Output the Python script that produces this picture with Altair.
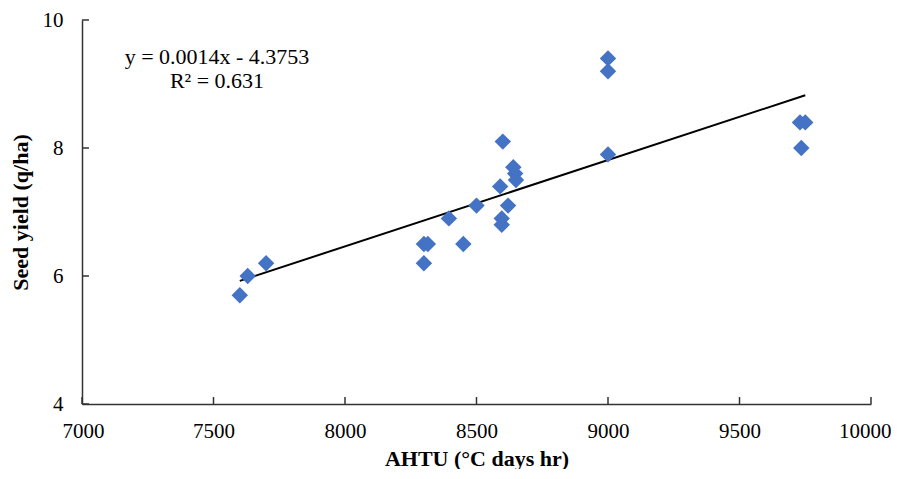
import altair as alt
import pandas as pd

# Data
ahtu = [7600, 7630, 7700, 8300, 8300, 8315, 8450, 8395, 8596, 8596, 8500,
        8600, 8590, 8640, 8647, 8650, 8620, 9000, 9000, 9000, 9730, 9750, 9735]
seed_yield = [5.7, 6.0, 6.2, 6.2, 6.5, 6.5, 6.5, 6.9, 6.8, 6.9, 7.1,
              8.1, 7.4, 7.7, 7.6, 7.5, 7.1, 9.4, 9.2, 7.9, 8.4, 8.4, 8.0]
x_ticks = [7000, 7500, 8000, 8500, 9000, 9500, 10000]
y_ticks = [4, 6, 8, 10]
equation_text = ["y = 0.0014x - 4.3753", "R² = 0.631"]

df = pd.DataFrame({"x": ahtu, "y": seed_yield})
xt = pd.DataFrame({"t": x_ticks})
yt = pd.DataFrame({"t": y_ticks})

W, H = 789, 384
FONT = "Liberation Serif"
FS = 21

xscale = alt.Scale(domain=[7000, 10000], nice=False, zero=False)
yscale = alt.Scale(domain=[4, 10], nice=False, zero=False)

xaxis = alt.Axis(values=x_ticks, format="d", title="AHTU (°C days hr)", grid=False, ticks=False,
                 labelPadding=16, labelFlush=True, labelFlushOffset=20,
                 titleBaseline="alphabetic", titleY=61, titleFontSize=22,
                 domainColor="#333333", domainWidth=1.5)
yaxis = alt.Axis(values=y_ticks, format="d", title="Seed yield (q/ha)", grid=False, ticks=False,
                 labelPadding=19, labelFlush=False, titleBaseline="middle", titleX=-62,
                 titleAngle=270, titleFontSize=22, domainColor="#333333", domainWidth=1.5)

points = alt.Chart(df).mark_point(shape="diamond", filled=True, size=270,
                                  color="#4472C4", opacity=1).encode(
    x=alt.X("x:Q", scale=xscale, axis=xaxis),
    y=alt.Y("y:Q", scale=yscale, axis=yaxis),
)

trend = alt.Chart(df).transform_regression("x", "y").mark_line(
    color="black", strokeWidth=2).encode(
    x=alt.X("x:Q", scale=xscale),
    y=alt.Y("y:Q", scale=yscale),
)

xtick_rules = alt.Chart(xt).mark_rule(color="#333333", strokeWidth=1.5).encode(
    x=alt.X("t:Q", scale=xscale),
    y=alt.value(H),
    y2=alt.value(H - 7),
)

ytick_rules = alt.Chart(yt).mark_rule(color="#333333", strokeWidth=1.5).encode(
    y=alt.Y("t:Q", scale=yscale),
    x=alt.value(0),
    x2=alt.value(7),
)

eq = alt.Chart(pd.DataFrame({"txt": [equation_text]})).mark_text(
    font=FONT, fontSize=22, color="black", align="center", baseline="middle",
    lineHeight=24).encode(
    text="txt",
    x=alt.value(135),
    y=alt.value(37),
)

chart = alt.layer(trend, points, xtick_rules, ytick_rules, eq).properties(
    width=W, height=H,
    autosize=alt.AutoSizeParams(type="none"),
    padding={"left": 74, "top": 12, "right": 20, "bottom": 65},
).configure_view(stroke=None).configure_axis(
    labelFont=FONT, labelFontSize=FS, labelColor="black",
    titleFont=FONT, titleFontWeight="bold", titleColor="black",
)

chart.save("out.html", embed_options={"renderer": "svg", "actions": False})
